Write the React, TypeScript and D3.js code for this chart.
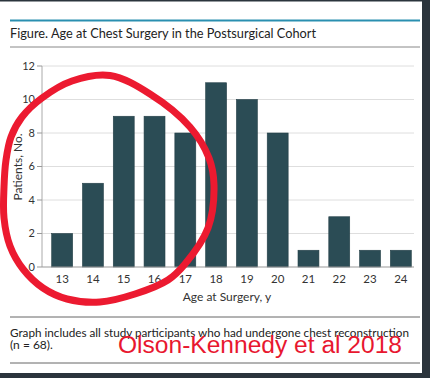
import React from "react";
import * as d3 from "d3";

const ages = ["13", "14", "15", "16", "17", "18", "19", "20", "21", "22", "23", "24"];
const patients = [2, 5, 9, 9, 8, 11, 10, 8, 1, 3, 1, 1];
const yTicks = [0, 2, 4, 6, 8, 10, 12];
const title = "Figure. Age at Chest Surgery in the Postsurgical Cohort";
const footLines = ["Graph includes all study participants who had undergone chest reconstruction", "(n = 68)."];
const stamp = "Olson-Kennedy et al 2018";
// hand-drawn annotation loop, traced in pixels
const loopPoints: [number, number][] = [
  [110, 75.5], [150, 94], [190, 127], [209, 158], [214, 185], [208, 228], [185, 264], [168, 280],
  [135, 294], [100, 302], [67, 299], [43, 288], [23, 269], [10, 246], [4, 218], [4, 187], [6, 160],
  [11, 137], [22, 117], [42, 98], [72, 81],
];

const W = 430, H = 378;
const plotLeft = 42, plotRight = 414, plotTop = 66, plotBottom = 267;

export default function App() {
  const x = d3.scaleBand<string>().domain(ages).range([plotLeft, 421]).paddingInner(0.32).paddingOuter(0.315);
  const y = d3.scaleLinear().domain([0, 12]).range([plotBottom, plotTop]);
  const font = "Lato, 'Open Sans', sans-serif";
  const loop = d3.line().curve(d3.curveCatmullRomClosed.alpha(0.5))(loopPoints) || "";
  return (
    <svg width={W} height={H} style={{ position: "absolute", left: 0, top: 0, background: "#fff" }}>
      <rect x={0} y={0} width={W} height={H} fill="#fff" />
      {/* screenshot frame */}
      <rect x={0} y={0} width={W} height={1.5} fill="#2b343c" />
      <rect x={422} y={0} width={8} height={H} fill="#2b343c" />
      <rect x={0} y={373} width={W} height={5} fill="#2b343c" />
      {/* header */}
      <line x1={10} x2={420} y1={20.5} y2={20.5} stroke="#2a8fb0" strokeWidth={2} />
      <text x={10} y={38} fontFamily={font} fontSize={13.5} fill="#222" textLength={306} lengthAdjust="spacingAndGlyphs">{title}</text>
      <line x1={10} x2={420} y1={47} y2={47} stroke="#888" strokeWidth={1} />
      {/* gridlines */}
      {yTicks.filter(t => t > 0).map(t => (
        <line key={t} x1={plotLeft} x2={plotRight} y1={y(t)} y2={y(t)} stroke="#dedede" strokeWidth={1} />
      ))}
      {/* bars */}
      {ages.map((a, i) => (
        <rect key={a} x={x(a)} y={y(patients[i])} width={x.bandwidth()} height={plotBottom - y(patients[i])} fill="#2b4c55" stroke="#243f47" strokeWidth={0.6} />
      ))}
      {/* axes */}
      <line x1={plotLeft} x2={plotLeft} y1={plotTop} y2={plotBottom} stroke="#aaa" strokeWidth={1} />
      <line x1={plotLeft} x2={plotRight} y1={plotBottom} y2={plotBottom} stroke="#999" strokeWidth={1} />
      {yTicks.map(t => (
        <g key={t}>
          <line x1={plotLeft - 5} x2={plotLeft} y1={y(t)} y2={y(t)} stroke="#999" strokeWidth={1} />
          <text x={plotLeft - 7} y={y(t)} dy="0.35em" textAnchor="end" fontFamily={font} fontSize={11} fill="#333">{t}</text>
        </g>
      ))}
      {ages.map(a => (
        <text key={a} x={(x(a) as number) + x.bandwidth() / 2} y={283} textAnchor="middle" fontFamily={font} fontSize={11.5} fill="#333">{a}</text>
      ))}
      <text x={227} y={301} textAnchor="middle" fontFamily={font} fontSize={12} fill="#333">Age at Surgery, y</text>
      <text transform={`translate(21.5,167) rotate(-90)`} textAnchor="middle" fontFamily={font} fontSize={12} fill="#333">Patients, No.</text>
      {/* footer */}
      <line x1={10} x2={420} y1={317} y2={317} stroke="#666" strokeWidth={1} />
      <text x={10} y={337} fontFamily={font} fontSize={12} fill="#222" textLength={399} lengthAdjust="spacingAndGlyphs">{footLines[0]}</text>
      <text x={10} y={349} fontFamily={font} fontSize={12} fill="#222">{footLines[1]}</text>
      <line x1={10} x2={420} y1={363} y2={363} stroke="#666" strokeWidth={1} />
      {/* red annotation */}
      <path d={loop} fill="none" stroke="#ec1a30" strokeWidth={7} />
      <text x={118} y={353} fontFamily="'Liberation Sans', Arial, sans-serif" fontSize={23} fill="#e8172f" textLength={284} lengthAdjust="spacingAndGlyphs">{stamp}</text>
    </svg>
  );
}
